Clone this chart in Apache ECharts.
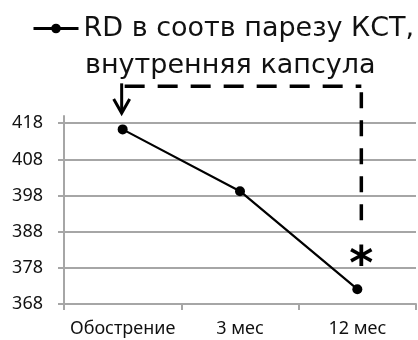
<!DOCTYPE html>
<html>
<head>
<meta charset="utf-8">
<script src="https://cdn.jsdelivr.net/npm/echarts@6/dist/echarts.min.js"></script>
</head>
<body style="margin:0;background:#fff">
<div id="main" style="width:418px;height:340px;"></div>
<script>
// данные
var categories = ['Обострение', '3 мес', '12 мес'];
var rdValues = [416.3, 399.2, 372.1];
var yTicks = [368, 378, 388, 398, 408, 418];
var seriesName = 'RD в соотв парезу КСТ, внутренняя капсула';

var myChart = echarts.init(document.getElementById('main'));
var font = 'Noto Sans';
var titleFont = 'DejaVu Sans';
var gray = '#a6a6a6';

var option = {
    animation: false,
    textStyle: { fontFamily: font },
    legend: {
        left: 27, top: 10,
        itemWidth: 45, itemHeight: 12, itemGap: 4,
        data: [seriesName],
        lineStyle: { width: 3 },
        formatter: function () { return 'RD в соотв парезу КСТ,'; },
        textStyle: { fontSize: 27, color: '#111', fontFamily: titleFont }
    },
    title: {
        text: 'внутренняя капсула',
        left: 80, top: 47,
        textStyle: { fontSize: 27, fontWeight: 'normal', color: '#111', fontFamily: titleFont }
    },
    grid: { left: 64, right: 2, top: 116, bottom: 36 },
    xAxis: {
        type: 'category',
        data: categories,
        boundaryGap: true,
        axisLine: { lineStyle: { color: gray, width: 2 } },
        axisTick: { show: true, interval: 0, length: 6, lineStyle: { color: gray, width: 2 } },
        axisLabel: { interval: 0, fontSize: 18, color: '#111', margin: 16, fontFamily: font }
    },
    yAxis: {
        type: 'value',
        min: 368, max: 420,
        axisLine: { show: true, lineStyle: { color: gray, width: 2 } },
        axisTick: { show: true, length: 6, customValues: yTicks, lineStyle: { color: gray, width: 2 } },
        axisLabel: { fontSize: 18, color: '#111', margin: 21, customValues: yTicks, fontFamily: font },
        splitLine: { show: true, lineStyle: { color: gray, width: 2 } }
    },
    series: [{
        name: seriesName,
        type: 'line',
        data: rdValues,
        symbol: 'circle',
        symbolSize: 10,
        itemStyle: { color: '#000' },
        lineStyle: { color: '#000', width: 2.2 }
    }]
};
myChart.setOption(option);

// аннотации: пунктирная скобка, стрелка и звёздочка
function px(cat, val) { return myChart.convertToPixel({ gridIndex: 0 }, [cat, val]); }
var a = px(0, 428.2), b = px(2, 428.2), c = px(2, 390.6), tip = px(0, 420.8), star = px(2, 380.4);
var xl = a[0] - 1, xr = b[0] + 4;
myChart.setOption({
    graphic: [
        { type: 'polyline', shape: { points: [[xl + 3, a[1]], [xr, a[1]]] },
          style: { stroke: '#000', lineWidth: 3.5, lineDash: [20, 13], fill: null } },
        { type: 'polyline', shape: { points: [[xr, a[1] + 6], [xr, c[1]]] },
          style: { stroke: '#000', lineWidth: 3.5, lineDash: [16, 12], fill: null } },
        { type: 'polyline', shape: { points: [[xl, a[1] - 3], [xl, tip[1] - 2]] },
          style: { stroke: '#000', lineWidth: 3, fill: null } },
        { type: 'polyline', shape: { points: [[xl - 8, tip[1] - 14], [xl, tip[1]], [xl + 8, tip[1] - 14]] },
          style: { stroke: '#000', lineWidth: 3, fill: null } },
        { type: 'text', x: xr, y: star[1] + 8,
          style: { text: '*', fontSize: 46, fontWeight: 'bold', fill: '#000', align: 'center', verticalAlign: 'middle', fontFamily: 'DejaVu Sans' } }
    ]
});
</script>
</body>
</html>
